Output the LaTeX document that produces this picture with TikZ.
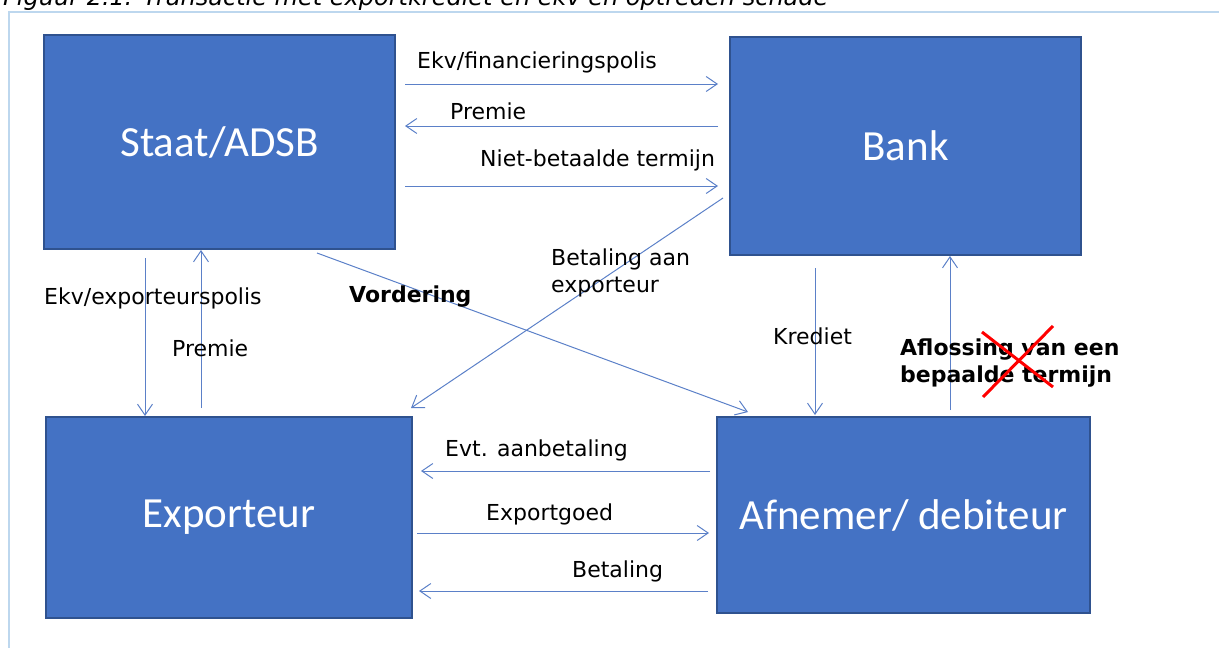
\documentclass[tikz,border=0pt]{standalone}
\usepackage{fontspec}
\setmainfont{DejaVu Sans}
\newfontfamily\boxfont{Carlito}
\usetikzlibrary{arrows.meta}
\definecolor{boxfill}{HTML}{4472C4}
\definecolor{boxedge}{HTML}{2F528F}
\definecolor{arrowc}{HTML}{5B80C8}
\definecolor{framec}{HTML}{BDD7EE}
\tikzset{
  bigbox/.style={draw=boxedge, line width=1.5pt, fill=boxfill, text=white, inner sep=0pt,
    font=\boxfont\fontsize{43}{47}\selectfont},
  flow/.style={draw=arrowc, line width=1pt, -{Straight Barb[length=11pt,width=15pt,line width=1pt]}},
  lbl/.style={anchor=west, inner sep=0pt, text=black, font=\fontsize{22}{27}\selectfont, align=left},
  blbl/.style={lbl, font=\bfseries\fontsize{22}{27}\selectfont},
}
\begin{document}
\begin{tikzpicture}[x=1pt,y=-1pt]
\useasboundingbox (0,0) rectangle (1219,648);
% frame
\draw[framec, line width=2pt] (9,660) -- (9,12) -- (1230,12);
% caption (cut off by the page edge, as in the reference)
\node[anchor=base west, inner sep=0pt, font=\itshape\fontsize{24}{28}\selectfont] (cap) at (3,5) {Figuur 2.1: Transactie met exportkrediet en ekv en optreden schade};
% boxes
\node[bigbox, minimum width=351pt, minimum height=214pt] (staat) at (219.5,142) {Staat/ADSB};
\node[bigbox, minimum width=351pt, minimum height=218pt] (bank) at (905.5,146) {Bank};
\node[bigbox, minimum width=366pt, minimum height=201pt] (exp) at (229,517.5) {Exporteur};
\node[bigbox, minimum width=373pt, minimum height=196pt] (afn) at (903.5,515) {Afnemer/ debiteur};
% endpoints
\coordinate (a1s) at (405,84);  \coordinate (a1e) at (718,84);
\coordinate (a2s) at (718,126); \coordinate (a2e) at (405,126);
\coordinate (a3s) at (405,186); \coordinate (a3e) at (718,186);
\coordinate (a4s) at (723,198); \coordinate (a4e) at (411,408);
\coordinate (a5s) at (317,253); \coordinate (a5e) at (748,412);
\coordinate (a6s) at (145,258); \coordinate (a6e) at (145,416);
\coordinate (a7s) at (201,408); \coordinate (a7e) at (201,250);
\coordinate (a8s) at (815,268); \coordinate (a8e) at (815,415);
\coordinate (a9s) at (950,410); \coordinate (a9e) at (950,256);
\coordinate (b1s) at (710,471); \coordinate (b1e) at (421,471);
\coordinate (b2s) at (417,533); \coordinate (b2e) at (709,533);
\coordinate (b3s) at (708,591); \coordinate (b3e) at (419,591);
\draw[flow] (a1s) -- (a1e);
\draw[flow] (a2s) -- (a2e);
\draw[flow] (a3s) -- (a3e);
\draw[flow] (a4s) -- (a4e);
\draw[flow] (a5s) -- (a5e);
\draw[flow] (a6s) -- (a6e);
\draw[flow] (a7s) -- (a7e);
\draw[flow] (a8s) -- (a8e);
\draw[flow] (a9s) -- (a9e);
\draw[flow] (b1s) -- (b1e);
\draw[flow] (b2s) -- (b2e);
\draw[flow] (b3s) -- (b3e);
% labels
\node[lbl] (l1) at (417,62) {Ekv/financieringspolis};
\node[lbl] (l2) at (450,111) {Premie};
\node[lbl] (l3) at (480,160) {Niet-betaalde termijn};
\node[lbl] (l4) at (551,273) {Betaling aan\\exporteur};
\node[blbl] (l5) at (349,297) {Vordering};
\node[lbl] (l6) at (44,298) {Ekv/exporteurspolis};
\node[lbl] (l7) at (172,348) {Premie};
\node[lbl] (l8) at (773,336) {Krediet};
\node[blbl] (l9) at (900,363) {Aflossing van een\\bepaalde termijn};
\node[lbl] (l10) at (445,450) {Evt. aanbetaling};
\node[lbl] (l11) at (486,514) {Exportgoed};
\node[lbl] (l12) at (572,571) {Betaling};
% red cross
\draw[red, line width=3pt] (982,332) -- (1053,387);
\draw[red, line width=3pt] (1053,326) -- (983,397);
\end{tikzpicture}
\end{document}
